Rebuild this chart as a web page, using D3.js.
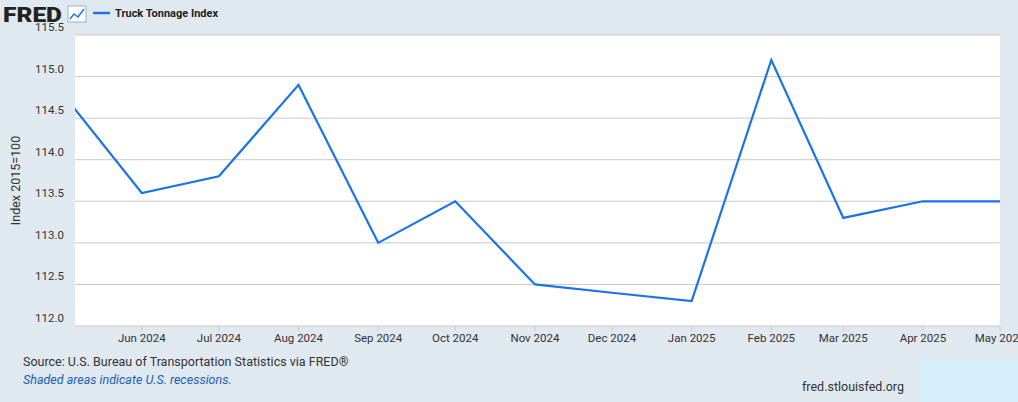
<!DOCTYPE html>
<html><head><meta charset="utf-8">
<script src="https://cdn.jsdelivr.net/npm/d3@7"></script>
<style>body{margin:0;background:#e1e9f0;font-family:Roboto,"Open Sans",sans-serif;overflow:hidden}</style>
</head><body><svg id="c" width="1018" height="402"></svg>
<script>
const dates = ["2024-05-01","2024-06-01","2024-07-01","2024-08-01","2024-09-01","2024-10-01","2024-11-01","2024-12-01","2025-01-01","2025-02-01","2025-03-01","2025-04-01","2025-05-01"];
const values = [114.8,113.6,113.8,114.9,113.0,113.5,112.5,112.4,112.3,115.2,113.3,113.5,113.5];
const yTicks = [112.0,112.5,113.0,113.5,114.0,114.5,115.0,115.5];
const xDomain = ["2024-05-06","2025-05-01"];
const seriesName = "Truck Tonnage Index";
const yLabel = "Index 2015=100";

const svg = d3.select("#c");
const W=1018,H=402, L=75, R=1000, T=35, B=326;
svg.append("rect").attr("width",W).attr("height",H).attr("fill","#e1e9f0");
svg.append("rect").attr("x",L).attr("y",T).attr("width",R-L).attr("height",B-T).attr("fill","#fff");
svg.append("clipPath").attr("id","cp").append("rect").attr("x",L).attr("y",0).attr("width",R-L+2).attr("height",H);
const parse=d3.timeParse("%Y-%m-%d");
const data=dates.map((d,i)=>({d:parse(d),v:values[i]}));
const x=d3.scaleTime().domain(xDomain.map(parse)).range([L,R]);
const y=d3.scaleLinear().domain([112,115.5]).range([B,T]);
const g=svg.append("g");
yTicks.forEach(t=>{
  g.append("line").attr("x1",L).attr("x2",R).attr("y1",y(t)).attr("y2",y(t)).attr("stroke","#c9c9c9").attr("stroke-width",1);
  g.append("text").attr("x",L-11).attr("y",y(t)-4).attr("text-anchor","end").attr("font-size",11.5).attr("fill","#333").text(t.toFixed(1));
});
const fmt=d3.timeFormat("%b %Y");
data.slice(1).forEach(p=>{
  g.append("line").attr("x1",x(p.d)).attr("x2",x(p.d)).attr("y1",B).attr("y2",B+5).attr("stroke","#c9c9c9");
  g.append("text").attr("x",x(p.d)).attr("y",B+16).attr("text-anchor","middle").attr("font-size",11.5).attr("fill","#333").text(fmt(p.d));
});
svg.append("text").attr("transform",`translate(20,${(T+B)/2}) rotate(-90)`).attr("text-anchor","middle").attr("font-size",12.5).attr("fill","#333").text(yLabel);
svg.append("path").datum(data).attr("clip-path","url(#cp)").attr("fill","none").attr("stroke","#1a73e8").attr("stroke-width",2.2)
  .attr("d",d3.line().x(p=>x(p.d)).y(p=>y(p.v)));
// header
svg.append("text").attr("x",3).attr("y",22).attr("font-size",20).attr("font-weight",900).attr("fill","#222").attr("textLength",59).attr("lengthAdjust","spacingAndGlyphs").text("FRED");
const ic=svg.append("g").attr("transform","translate(68,6)");
ic.append("rect").attr("width",18).attr("height",16).attr("fill","#fff").attr("stroke","#8fb3d9");
ic.append("path").attr("d","M2,13 L6,8 L10,11 L16,3").attr("fill","none").attr("stroke","#1a73e8").attr("stroke-width",1.5);
svg.append("line").attr("x1",93).attr("x2",110).attr("y1",13).attr("y2",13).attr("stroke","#1a73e8").attr("stroke-width",2.5);
svg.append("text").attr("x",115).attr("y",17).attr("font-size",11).attr("font-weight",700).attr("fill","#222").text(seriesName);
// footer
svg.append("text").attr("x",23).attr("y",366).attr("font-size",12.5).attr("fill","#333").text("Source: U.S. Bureau of Transportation Statistics via FRED®");
svg.append("text").attr("x",23).attr("y",384).attr("font-size",12.5).attr("font-style","italic").attr("fill","#1a5fb4").text("Shaded areas indicate U.S. recessions.");
svg.append("rect").attr("x",920).attr("y",360).attr("width",98).attr("height",42).attr("fill","#d6eefb");
svg.append("text").attr("x",904).attr("y",391).attr("text-anchor","end").attr("font-size",12.5).attr("fill","#333").text("fred.stlouisfed.org");
</script></body></html>
